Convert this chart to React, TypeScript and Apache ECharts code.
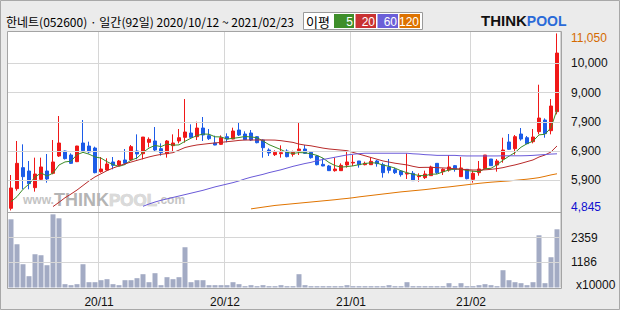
import React, { useEffect, useRef } from 'react';
import * as echarts from 'echarts';

// ---- categories (trading days) ----
const oct20 = [12, 13, 14, 15, 16, 19, 20, 21, 22, 23, 26, 27, 28, 29, 30];
const nov20 = [2, 3, 4, 5, 6, 9, 10, 11, 12, 13, 16, 17, 18, 19, 20, 23, 24, 25, 26, 27, 30];
const dec20 = [1, 2, 3, 4, 7, 8, 9, 10, 11, 14, 15, 16, 17, 18, 21, 22, 23, 24, 28, 29, 30];
const jan21 = [4, 5, 6, 7, 8, 11, 12, 13, 14, 15, 18, 19, 20, 21, 22, 25, 26, 27, 28, 29];
const feb21 = [1, 2, 3, 4, 5, 8, 9, 10, 15, 16, 17, 18, 19, 22, 23];
const pad2 = (n: number) => String(n).padStart(2, '0');
const dates: string[] = [
  ...oct20.map((d) => `2020/10/${pad2(d)}`),
  ...nov20.map((d) => `2020/11/${pad2(d)}`),
  ...dec20.map((d) => `2020/12/${pad2(d)}`),
  ...jan21.map((d) => `2021/01/${pad2(d)}`),
  ...feb21.map((d) => `2021/02/${pad2(d)}`),
];
const monthTickLabels = ['20/11', '20/12', '21/01', '21/02'];

// ---- OHLC ----
const open = [4919, 5608, 6344, 6227, 5643, 5935, 6227, 6146, 6753, 6928, 6788, 6554, 7208, 7103, 7033, 6204, 6262, 6543, 6438, 6613, 6613, 6928, 6834, 7232, 7279, 7010, 6835, 7115, 7279, 7407, 7559, 7430, 7734, 7466, 7209, 7162, 7430, 7349, 7664, 7524, 7559, 7430, 7314, 6963, 6800, 6835, 6928, 6811, 6940, 6998, 6882, 6753, 6461, 6403, 6239, 6239, 6438, 6508, 6578, 6449, 6449, 6578, 6449, 6368, 6274, 6227, 6122, 6146, 6029, 5994, 6064, 6496, 6204, 6262, 6414, 6029, 6286, 5935, 6169, 6309, 6648, 6438, 6648, 7244, 7010, 7524, 7395, 7255, 7606, 8014, 7641, 8306];
const close = [5632, 6496, 6029, 5783, 6122, 6368, 5947, 6543, 7208, 6660, 6496, 7103, 6940, 6893, 6169, 6297, 6473, 6426, 6578, 6496, 7080, 6823, 7418, 7337, 6963, 6870, 7279, 7209, 7395, 7594, 7407, 7734, 7489, 7360, 7138, 7395, 7349, 7629, 7489, 7325, 7314, 7220, 7045, 6858, 6882, 6870, 6730, 6882, 6998, 6846, 6695, 6449, 6403, 6239, 6297, 6426, 6543, 6531, 6449, 6496, 6566, 6484, 6169, 6251, 6169, 6099, 6146, 5889, 6052, 6122, 6368, 6169, 6286, 6368, 6286, 6333, 5959, 6146, 6297, 6788, 6414, 6578, 6963, 6987, 7430, 7349, 7185, 7419, 8085, 7536, 8505, 10362];
const low = [4845, 5538, 5585, 5585, 5503, 5912, 5818, 6111, 6718, 6630, 6473, 6540, 6928, 6846, 6146, 6169, 6239, 6286, 6403, 6438, 6578, 6636, 6636, 7057, 6893, 6765, 6695, 6928, 7197, 7220, 7400, 7314, 7279, 7314, 7130, 7138, 7232, 7340, 7454, 7314, 7279, 7197, 6695, 6753, 6753, 6695, 6706, 6730, 6788, 6823, 6660, 6426, 6395, 6230, 6204, 6230, 6344, 6403, 6344, 6426, 6438, 6379, 5994, 6146, 6122, 6029, 5947, 5880, 5853, 5947, 6060, 6122, 6087, 6204, 6204, 6020, 5935, 5818, 6064, 6297, 6403, 6204, 6519, 6963, 6800, 7290, 7180, 7197, 7512, 7395, 7512, 8213];
const high = [6087, 7279, 7162, 6578, 6695, 6695, 6823, 7314, 8155, 6940, 6846, 7110, 8014, 7256, 7080, 6718, 6672, 6718, 6613, 6998, 7138, 7512, 7418, 7407, 7769, 7197, 7314, 7512, 7699, 8750, 7863, 7956, 8120, 7699, 7466, 7477, 7547, 7746, 7909, 7617, 7664, 7454, 7337, 7022, 6952, 7127, 6987, 6940, 7909, 7138, 6905, 6788, 6672, 6438, 6695, 6496, 6905, 6788, 6578, 6554, 6706, 6613, 6519, 6648, 6344, 6262, 6846, 6227, 6146, 6239, 6414, 6496, 6321, 6788, 6438, 6718, 6286, 6239, 6578, 6788, 6648, 6648, 7395, 7524, 7489, 7734, 7454, 7699, 9252, 8073, 8750, 11050];

// ---- moving averages ----
const ma5 = [5150, 5330, 5585, 5770, 6012, 6160, 6050, 6153, 6438, 6545, 6571, 6802, 6881, 6818, 6720, 6680, 6554, 6452, 6389, 6454, 6611, 6681, 6879, 7031, 7124, 7082, 7173, 7132, 7143, 7269, 7377, 7468, 7524, 7517, 7426, 7423, 7346, 7374, 7400, 7437, 7421, 7395, 7279, 7152, 7064, 6975, 6877, 6844, 6872, 6865, 6830, 6774, 6678, 6526, 6417, 6363, 6382, 6407, 6449, 6489, 6517, 6505, 6433, 6393, 6328, 6234, 6167, 6111, 6071, 6062, 6115, 6120, 6199, 6263, 6295, 6288, 6246, 6218, 6204, 6305, 6321, 6445, 6608, 6746, 6874, 7061, 7183, 7274, 7494, 7515, 7746, 8381];
const ma20 = [null, null, null, null, null, null, null, 4980, 5130, 5290, 5420, 5560, 5720, 5880, 6020, 6130, 6240, 6330, 6410, 6480, 6540, 6600, 6660, 6720, 6770, 6810, 6840, 6870, 6960, 7050, 7100, 7140, 7165, 7190, 7210, 7230, 7255, 7275, 7300, 7314, 7314, 7314, 7314, 7314, 7310, 7290, 7260, 7230, 7170, 7135, 7110, 7070, 7030, 7000, 6980, 6960, 6940, 6880, 6820, 6760, 6700, 6640, 6580, 6540, 6500, 6470, 6440, 6390, 6350, 6355, 6355, 6345, 6335, 6325, 6305, 6290, 6275, 6262, 6262, 6268, 6285, 6310, 6345, 6395, 6440, 6495, 6555, 6615, 6717, 6788, 6895, 7105];
const ma60 = [null, null, null, null, null, null, null, null, null, null, null, null, null, null, null, null, null, null, null, null, null, null, 4990, 5070, 5140, 5200, 5250, 5300, 5350, 5400, 5450, 5500, 5550, 5610, 5670, 5720, 5770, 5820, 5880, 5950, 6010, 6060, 6110, 6170, 6220, 6270, 6330, 6390, 6440, 6490, 6530, 6590, 6630, 6670, 6710, 6750, 6790, 6815, 6835, 6850, 6850, 6850, 6850, 6850, 6850, 6850, 6850, 6830, 6820, 6800, 6790, 6775, 6775, 6775, 6775, 6760, 6755, 6755, 6755, 6755, 6755, 6755, 6760, 6760, 6760, 6760, 6765, 6775, 6790, 6805, 6820, 6830];
const ma120 = [null, null, null, null, null, null, null, null, null, null, null, null, null, null, null, null, null, null, null, null, null, null, null, null, null, null, null, null, null, null, null, null, null, null, null, null, null, null, null, null, 4900, 4930, 4960, 4990, 5020, 5040, 5060, 5080, 5100, 5120, 5140, 5160, 5180, 5200, 5220, 5245, 5265, 5290, 5320, 5345, 5370, 5395, 5420, 5445, 5470, 5495, 5515, 5535, 5555, 5575, 5600, 5625, 5650, 5670, 5695, 5720, 5745, 5770, 5795, 5815, 5835, 5850, 5865, 5880, 5900, 5920, 5940, 5965, 5995, 6040, 6090, 6130];

// ---- volume (x10000) ----
const volume = [3219, 2041, 1099, 534, 1570, 1523, 1052, 3454, 3266, 157, 110, 157, 1099, 251, 251, 345, 393, 157, 110, 345, 345, 440, 628, 251, 675, 110, 487, 393, 487, 1900, 251, 345, 345, 110, 110, 110, 110, 251, 157, 63, 110, 63, 110, 63, 63, 110, 63, 63, 628, 110, 63, 63, 63, 63, 63, 63, 110, 63, 63, 63, 63, 63, 63, 110, 63, 63, 251, 63, 63, 63, 63, 63, 63, 204, 63, 204, 63, 63, 110, 157, 110, 63, 816, 345, 251, 204, 110, 251, 2465, 204, 1429, 2748];

// ---- axes / ticks ----
const priceMin = 4790;
const priceMax = 11100;
const priceGridValues = [5900, 6925, 7950, 8975, 10000];
const priceGridLabels = ['5,900', '6,900', '7,900', '9,000', '10,000'];
const priceHighValue = 11050;
const priceHighLabel = '11,050';
const priceLowValue = 4845;
const priceLowLabel = '4,845';
const volMax = 3540;
const volGridValues = [1186, 2359];
const volUnitLabel = 'x10000';

// ---- header ----
const stockName = '한네트';
const stockCode = '052600';
const periodLabel = '일간';
const dayCount = 92;
const maLegendLabels = ['5', '20', '60', '120'];
const maColors = ['#3c8c28', '#b82a2a', '#6a5ad8', '#e07400'];
const maLegendColors = ['#3e8e2a', '#c83232', '#6b5fd8', '#dd7200'];

const UP = '#f01818';
const DOWN = '#1c5ce8';
const GRIDC = '#d6d6d6';
const NUMFONT = 'Liberation Sans';
const KFONT = 'Noto Sans CJK KR';

export default function App() {
  const ref = useRef<HTMLDivElement>(null);
  useEffect(() => {
    document.body.style.margin = '0';
    const chart = echarts.init(ref.current!, null, { renderer: 'svg' });
    const monthStartIdx: number[] = [];
    dates.forEach((d, i) => {
      if (i > 0 && d.slice(0, 7) !== dates[i - 1].slice(0, 7)) monthStartIdx.push(i);
    });
    const isMonthStart = (i: number) => monthStartIdx.indexOf(i) >= 0;

    const priceLabelVals = [priceLowValue, ...priceGridValues, priceHighValue];
    const priceLabelFor = (v: number) => {
      if (v === priceHighValue) return `{hi|${priceHighLabel}}`;
      if (v === priceLowValue) return `{lo|${priceLowLabel}}`;
      const k = priceGridValues.indexOf(v);
      return k >= 0 ? `{n|${priceGridLabels[k]}}` : '';
    };

    const title = `${stockName}(${stockCode}) · ${periodLabel}(${dayCount}일) ${dates[0]} ~ ${dates[dates.length - 1]}`;

    const legendGraphics: any[] = [];
    const boxX = [334, 355.5, 377.5, 399.5];
    const boxW = [20, 20.5, 20.5, 20.5];
    maLegendLabels.forEach((lab, k) => {
      legendGraphics.push({
        type: 'rect',
        shape: { x: boxX[k], y: 14, width: boxW[k], height: 14 },
        style: { fill: maLegendColors[k] },
        z: 20,
      });
      legendGraphics.push({
        type: 'text',
        x: boxX[k] + boxW[k] - 1,
        y: 21.5,
        style: { text: lab, fill: '#fff', font: `12px "${NUMFONT}"`, align: 'right', verticalAlign: 'middle' },
        z: 21,
      });
    });

    const option: any = {
      animation: false,
      backgroundColor: '#ebebeb',
      grid: [
        { left: 8, top: 32, width: 552, height: 180, show: false },
        { left: 8, top: 212.5, width: 552, height: 75, show: false },
      ],
      xAxis: [
        {
          type: 'category', gridIndex: 0, data: dates, boundaryGap: true,
          axisLine: { show: false }, axisTick: { show: false }, axisLabel: { show: false },
          splitLine: { show: true, interval: (i: number) => isMonthStart(i), lineStyle: { color: GRIDC, width: 1 } },
        },
        {
          type: 'category', gridIndex: 1, data: dates, boundaryGap: true,
          axisLine: { show: false }, axisTick: { show: false },
          axisLabel: {
            show: true,
            interval: (i: number) => isMonthStart(i),
            formatter: (_v: string, i: number) => monthTickLabels[monthStartIdx.indexOf(i)] ?? '',
            margin: 8, fontSize: 12, color: '#111', fontFamily: NUMFONT, padding: [0, 4, 0, 0],
          },
          splitLine: { show: true, interval: (i: number) => isMonthStart(i), lineStyle: { color: GRIDC, width: 1 } },
        },
      ],
      yAxis: [
        {
          type: 'value', gridIndex: 0, position: 'right', min: priceMin, max: priceMax, scale: true,
          splitLine: { show: false }, axisLine: { show: false }, axisTick: { show: false },
          axisLabel: {
            show: true, customValues: priceLabelVals, margin: 11, fontFamily: NUMFONT, fontSize: 12,
            formatter: (v: number) => priceLabelFor(v),
            rich: {
              n: { color: '#111', fontFamily: NUMFONT, fontSize: 12 },
              hi: { color: '#d46a00', fontFamily: NUMFONT, fontSize: 12, padding: [9, 0, 0, 0] },
              lo: { color: '#1010d0', fontFamily: NUMFONT, fontSize: 12, padding: [0, 0, 7, 0] },
            },
          },
        },
        {
          type: 'value', gridIndex: 1, position: 'right', min: 0, max: volMax,
          splitLine: { show: false }, axisLine: { show: false }, axisTick: { show: false },
          axisLabel: {
            show: true, customValues: [0, ...volGridValues], margin: 11, fontFamily: NUMFONT, fontSize: 12,
            formatter: (v: number) => (v === 0 ? `{u|${volUnitLabel}}` : `{n|${v}}`),
            rich: {
              n: { color: '#111', fontFamily: NUMFONT, fontSize: 12 },
              u: { color: '#111', fontFamily: NUMFONT, fontSize: 12, padding: [0, 0, 5, 5] },
            },
          },
        },
      ],
      series: [
        {
          type: 'line', xAxisIndex: 0, yAxisIndex: 0, data: [], z: 0, silent: true,
          markLine: {
            silent: true, symbol: 'none', label: { show: false }, animation: false,
            lineStyle: { color: GRIDC, type: 'solid', width: 1 },
            data: priceGridValues.map((v) => ({ yAxis: v })),
          },
        },
        {
          type: 'line', xAxisIndex: 1, yAxisIndex: 1, data: [], z: 0, silent: true,
          markLine: {
            silent: true, symbol: 'none', label: { show: false }, animation: false,
            lineStyle: { color: GRIDC, type: 'solid', width: 1 },
            data: volGridValues.map((v) => ({ yAxis: v })),
          },
        },
        {
          type: 'candlestick', xAxisIndex: 0, yAxisIndex: 0, barWidth: 4, z: 3,
          data: dates.map((_, i) => [open[i], close[i], low[i], high[i]]),
          itemStyle: { color: UP, color0: DOWN, borderColor: UP, borderColor0: DOWN, borderWidth: 1 },
        },
        ...[ma5, ma20, ma60, ma120].map((arr, k) => ({
          type: 'line', xAxisIndex: 0, yAxisIndex: 0, data: arr, symbol: 'none', showSymbol: false,
          lineStyle: { color: maColors[k], width: 1 }, z: 4, silent: true, connectNulls: false,
        })),
        {
          type: 'bar', xAxisIndex: 1, yAxisIndex: 1, data: volume, barWidth: 5,
          itemStyle: { color: '#a3abc4' }, z: 3, silent: true,
        },
      ],
      graphic: [
        {
          type: 'rect', z: -10,
          shape: { x: 7.5, y: 31.5, width: 554, height: 257 },
          style: { fill: '#ffffff', stroke: 'none' },
        },
        {
          type: 'text', z: 1, x: 23, y: 209,
          style: {
            text: '{w|www.}{t|THINK}{p|POOL}{c|.com}',
            verticalAlign: 'bottom',
            rich: {
              w: { fill: '#c4c4c4', font: `bold 12px "${NUMFONT}"` },
              t: { fill: '#b4b4b4', font: `bold 18px "${NUMFONT}"` },
              p: { fill: '#dadada', font: `bold 17px "${NUMFONT}"`, stroke: '#c8c8c8', lineWidth: 0.6 },
              c: { fill: '#c4c4c4', font: `bold 12px "${NUMFONT}"` },
            },
          },
          opacity: 0.9,
        },
        {
          type: 'rect', z: 30,
          shape: { x: 7.5, y: 31.5, width: 554, height: 257 },
          style: { fill: 'none', stroke: '#a4a4a4', lineWidth: 1 },
        },
        {
          type: 'line', z: 30,
          shape: { x1: 7.5, y1: 212.5, x2: 561.5, y2: 212.5 },
          style: { stroke: '#a4a4a4', lineWidth: 1 },
        },
        {
          type: 'rect', z: 30,
          shape: { x: 0.5, y: 0.5, width: 619, height: 309 },
          style: { fill: 'none', stroke: '#a8a8a8', lineWidth: 1 },
        },
        {
          type: 'text', z: 20, x: 6, y: 21,
          style: { text: title, fill: '#000', font: `12px "${KFONT}"`, verticalAlign: 'middle' },
        },
        {
          type: 'rect', z: 19,
          shape: { x: 303.5, y: 12.5, width: 119, height: 17 },
          style: { fill: '#ffffff', stroke: '#9a9a9a', lineWidth: 1 },
        },
        {
          type: 'text', z: 20, x: 306, y: 21.5,
          style: { text: '이평', fill: '#000', font: `13px "${KFONT}"`, verticalAlign: 'middle' },
        },
        ...legendGraphics,
        {
          type: 'text', z: 20, x: 481, y: 28,
          style: {
            text: '{t|THINK}{p|POOL}',
            verticalAlign: 'bottom',
            rich: {
              t: { fill: '#111', font: `bold 15px "${NUMFONT}"` },
              p: { fill: '#2a6ad8', font: `bold 14px "${NUMFONT}"` },
            },
          },
        },
      ],
    };
    chart.setOption(option);
    return () => chart.dispose();
  }, []);
  return <div ref={ref} style={{ position: 'absolute', left: 0, top: 0, width: 620, height: 310 }} />;
}
